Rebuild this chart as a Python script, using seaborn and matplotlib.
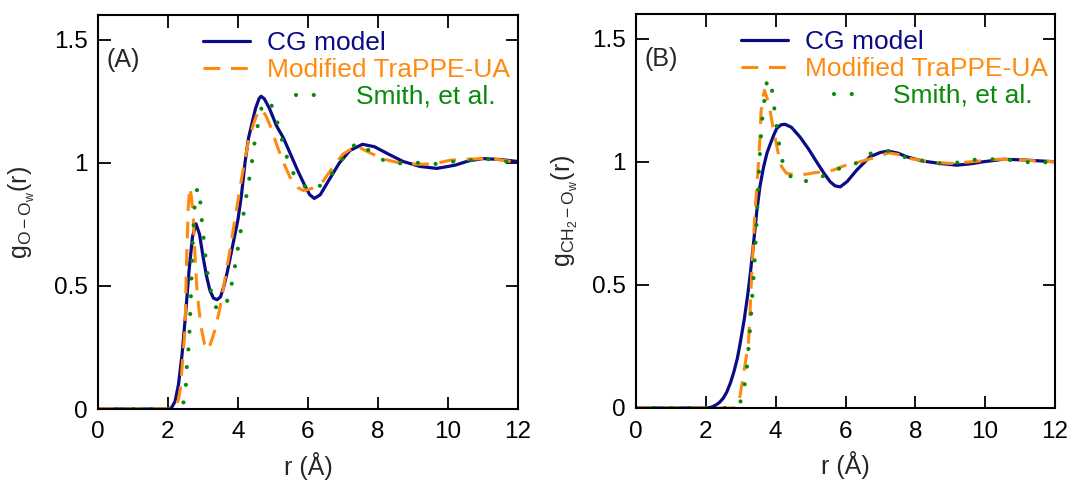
import numpy as np
import pandas as pd
import matplotlib
matplotlib.use("Agg")
import matplotlib.pyplot as plt
import seaborn as sns

# ---------------- data ----------------
# Panel A : g_{O-Ow}(r)
a_cg_r = [0, 1.0, 2.0, 2.1, 2.2, 2.3, 2.4, 2.5, 2.6, 2.7, 2.8, 2.9, 3.0, 3.1, 3.2, 3.3, 3.4,
          3.5, 3.6, 3.7, 3.8, 3.9, 4.0, 4.1, 4.2, 4.3, 4.4, 4.5, 4.6, 4.66, 4.75, 4.9, 5.1,
          5.3, 5.5, 5.7, 5.9, 6.05, 6.18, 6.35, 6.6, 6.9, 7.2, 7.56, 7.9, 8.3, 8.72, 9.2,
          9.68, 10.2, 10.6, 11.0, 11.5, 12.0]
a_cg_g = [0, 0, 0, 0.005, 0.03, 0.10, 0.22, 0.38, 0.56, 0.70, 0.752, 0.71, 0.62, 0.54, 0.48, 0.45, 0.444,
          0.455, 0.50, 0.56, 0.63, 0.70, 0.77, 0.87, 1.0, 1.10, 1.16, 1.22, 1.26, 1.27, 1.26, 1.22, 1.15,
          1.10, 1.035, 0.97, 0.91, 0.87, 0.855, 0.87, 0.93, 1.00, 1.05, 1.075, 1.065, 1.035, 1.005, 0.985,
          0.977, 0.99, 1.008, 1.017, 1.013, 1.005]

a_tp_r = [0, 2.0, 2.2, 2.3, 2.35, 2.42, 2.49, 2.53, 2.58, 2.62, 2.67, 2.72, 2.77, 2.82, 2.88, 2.95,
          3.04, 3.15, 3.25, 3.34, 3.49, 3.63, 3.77, 3.9, 4.06, 4.18, 4.3, 4.45, 4.55, 4.68, 4.8,
          4.95, 5.1, 5.3, 5.49, 5.7, 5.87, 6.1, 6.44, 6.7, 7.0, 7.38, 7.7, 8.15, 8.6, 9.1, 9.6,
          10.05, 10.6, 11.2, 11.6, 12.0]
a_tp_g = [0, 0, 0.005, 0.04, 0.08, 0.2, 0.333, 0.6, 0.82, 0.90, 0.86, 0.78, 0.63, 0.50, 0.41, 0.33,
          0.265, 0.24, 0.28, 0.32, 0.414, 0.53, 0.644, 0.76, 0.90, 1.0, 1.089, 1.16, 1.20, 1.217, 1.19,
          1.14, 1.075, 1.0, 0.94, 0.90, 0.887, 0.895, 0.927, 0.98, 1.035, 1.069, 1.045, 1.015, 1.0, 0.994, 0.995,
          1.01, 1.015, 1.017, 1.01, 1.0]

a_sm_r = [0, 2.3, 2.44, 2.51, 2.53, 2.58, 2.61, 2.65, 2.68, 2.72, 2.75, 2.77, 2.83, 2.89, 2.93, 2.97,
          3.02, 3.07, 3.13, 3.22, 3.34, 3.5, 3.65, 3.79, 3.88, 3.96, 4.04, 4.12, 4.2, 4.27, 4.36,
          4.49, 4.69, 4.91, 5.09, 5.22, 5.34, 5.49, 5.74, 6.09, 6.51, 6.8, 7.09, 7.39, 7.75, 8.18,
          8.66, 9.13, 9.58, 10.06, 10.53, 11.0, 11.4, 12.0]
a_sm_g = [0, 0, 0.026, 0.093, 0.16, 0.235, 0.30, 0.44, 0.58, 0.718, 0.79, 0.857, 0.89, 0.898, 0.83, 0.76,
          0.69, 0.62, 0.55, 0.483, 0.417, 0.40, 0.42, 0.485, 0.553, 0.62, 0.69, 0.76, 0.827, 0.896, 0.963,
          1.10, 1.235, 1.251, 1.183, 1.113, 1.049, 0.98, 0.92, 0.887, 0.92, 0.98, 1.035, 1.082, 1.049, 1.008,
          0.997, 1.0, 0.994, 1.004, 1.008, 1.017, 1.01, 1.0]

# Panel B : g_{CH2-Ow}(r)
b_cg_r = [0, 2.0, 2.12, 2.2, 2.3, 2.4, 2.5, 2.6, 2.7, 2.8, 2.9, 2.98, 3.1, 3.2, 3.27, 3.36, 3.46,
          3.55, 3.65, 3.75, 3.84, 3.95, 4.03, 4.15, 4.27, 4.45, 4.7, 4.95, 5.17, 5.4, 5.56, 5.7,
          5.85, 6.05, 6.32, 6.7, 7.0, 7.23, 7.5, 7.76, 8.2, 8.72, 9.19, 9.6, 9.95, 10.52, 11.0,
          11.5, 12.0]
b_cg_g = [0, 0, 0.002, 0.006, 0.013, 0.024, 0.04, 0.065, 0.10, 0.145, 0.20, 0.26, 0.36, 0.46, 0.54, 0.66,
          0.80, 0.90, 0.976, 1.035, 1.07, 1.11, 1.135, 1.15, 1.152, 1.14, 1.10, 1.05, 1.0, 0.95, 0.919, 0.902,
          0.898, 0.92, 0.966, 1.02, 1.038, 1.043, 1.035, 1.02, 1.003, 0.993, 0.986, 0.992, 1.0, 1.01, 1.008,
          1.004, 1.0]

b_tp_r = [0, 2.8, 2.88, 2.98, 3.07, 3.15, 3.22, 3.27, 3.31, 3.36, 3.41, 3.46, 3.51, 3.55, 3.58, 3.63,
          3.68, 3.75, 3.84, 3.91, 3.98, 4.08, 4.17, 4.31, 4.6, 4.9, 5.1, 5.36, 5.65, 5.89, 6.1, 6.42,
          6.9, 7.23, 7.5, 7.86, 8.4, 9.0, 9.6, 10.3, 11.0, 11.5, 12.0]
b_tp_g = [0, 0, 0.007, 0.05, 0.128, 0.2, 0.26, 0.4, 0.53, 0.67, 0.80, 0.9, 1.0, 1.1, 1.2, 1.26,
          1.29, 1.26, 1.21, 1.15, 1.10, 1.03, 0.98, 0.953, 0.946, 0.95, 0.955, 0.96, 0.966, 0.98, 0.99, 1.0,
          1.02, 1.036, 1.03, 1.013, 1.0, 0.993, 1.0, 1.01, 1.008, 1.003, 1.0]

b_sm_r = [0, 2.55, 2.98, 3.10, 3.17, 3.21, 3.25, 3.29, 3.32, 3.35, 3.39, 3.41, 3.44, 3.46, 3.49, 3.51,
          3.53, 3.56, 3.59, 3.63, 3.69, 3.76, 3.83, 3.89, 3.95, 4.01, 4.08, 4.15, 4.32, 4.6, 5.04,
          5.47, 5.9, 6.34, 6.73, 7.2, 7.66, 8.12, 8.6, 9.08, 9.54, 10.0, 10.5, 10.95, 11.4, 12.0]
b_sm_g = [0, 0, 0.02, 0.084, 0.153, 0.223, 0.294, 0.363, 0.433, 0.502, 0.571, 0.64, 0.71, 0.78, 0.85, 0.92,
          0.99, 1.06, 1.128, 1.198, 1.265, 1.337, 1.32, 1.297, 1.23, 1.161, 1.09, 1.02, 0.955, 0.918, 0.924,
          0.948, 0.978, 0.996, 1.034, 1.045, 1.02, 1.007, 0.993, 0.993, 1.007, 1.01, 1.01, 1.004, 0.995, 1.0]

series_labels = ["CG model", "Modified TraPPE-UA", "Smith, et al."]
panel_tags = ["(A)", "(B)"]
ylabels = [r"$\mathrm{g_{O-O_w}(r)}$", r"$\mathrm{g_{CH_2-O_w}(r)}$"]
xlabel = "r (Å)"
xticks = [0, 2, 4, 6, 8, 10, 12]
yticks = [0, 0.5, 1, 1.5]
yticklabels = ["0", "0.5", "1", "1.5"]

# ---------------- style ----------------
sns.set_style("ticks")
plt.rcParams["font.family"] = ["Liberation Sans", "DejaVu Sans"]
plt.rcParams["mathtext.fontset"] = "custom"
plt.rcParams["mathtext.rm"] = "Liberation Sans"
plt.rcParams["mathtext.it"] = "Liberation Sans:italic"
plt.rcParams["mathtext.bf"] = "Liberation Sans:bold"
plt.rcParams["mathtext.sf"] = "Liberation Sans"

c_cg = "#0b0b85"
c_tp = "#ff8a10"
c_sm = "#0a8a0a"

fig = plt.figure(figsize=(10.72, 4.83), dpi=100)
ax_a = fig.add_axes([98 / 1072, 74 / 483, 420 / 1072, 394 / 483])
ax_b = fig.add_axes([636 / 1072, 75 / 483, 419 / 1072, 394 / 483])

panels = [
    (ax_a, (a_cg_r, a_cg_g), (a_tp_r, a_tp_g), (a_sm_r, a_sm_g)),
    (ax_b, (b_cg_r, b_cg_g), (b_tp_r, b_tp_g), (b_sm_r, b_sm_g)),
]

for i, (ax, cg, tp, sm) in enumerate(panels):
    sns.lineplot(x=cg[0], y=cg[1], ax=ax, color=c_cg, lw=2.3, estimator=None, sort=False,
                 label=series_labels[0], legend=False)
    sns.lineplot(x=tp[0], y=tp[1], ax=ax, color=c_tp, lw=2.2, estimator=None, sort=False,
                 linestyle=(0, (5.5, 3.5)), label=series_labels[1], legend=False)
    sns.lineplot(x=sm[0], y=sm[1], ax=ax, color=c_sm, lw=3.0, estimator=None, sort=False,
                 linestyle=(0, (0.01, 4.25)), dash_capstyle="round", label=series_labels[2],
                 legend=False)

    ax.set_xlim(0, 12)
    ax.set_ylim(0, 1.6)
    ax.set_xticks(xticks)
    ax.set_yticks(yticks)
    ax.set_yticklabels(yticklabels)
    ax.tick_params(direction="in", top=True, right=True, length=9, width=1.3,
                   labelsize=17.5, colors="black")
    ax.tick_params(axis="x", pad=9)
    ax.tick_params(axis="y", pad=7.5)
    for s in ax.spines.values():
        s.set_linewidth(1.5)
        s.set_color("black")
        s.set_visible(True)

    ax.set_xlabel(xlabel, fontsize=18)
    ax.set_ylabel(ylabels[i], fontsize=18)
    ax.xaxis.set_label_coords(0.5, -0.11)
    ax.yaxis.set_label_coords(-0.145 if i == 0 else -0.134, 0.5)

    ax.text(0.021, 0.886, panel_tags[i], transform=ax.transAxes, fontsize=18,
            ha="left", va="center")

    lines = ax.get_lines()
    fs = 19
    specs = [
        (lines[0], series_labels[0], 0.25, 0.929, 1.78, 0.64),
        (lines[1], series_labels[1], 0.25, 0.860, 1.78, 0.64),
        (lines[2], series_labels[2], 0.472, 0.792, 0.70, 1.55),
    ]
    for j, (ln, lab, x0, y0, hl, tp_) in enumerate(specs):
        leg = ax.legend(handles=[ln], labels=[lab], loc="center left",
                        bbox_to_anchor=(x0, y0), frameon=False, borderpad=0,
                        borderaxespad=0, handlelength=hl, handletextpad=tp_,
                        fontsize=fs, labelcolor="linecolor")
        if j < 2:
            ax.add_artist(leg)

fig.savefig("out.png", dpi=100)
